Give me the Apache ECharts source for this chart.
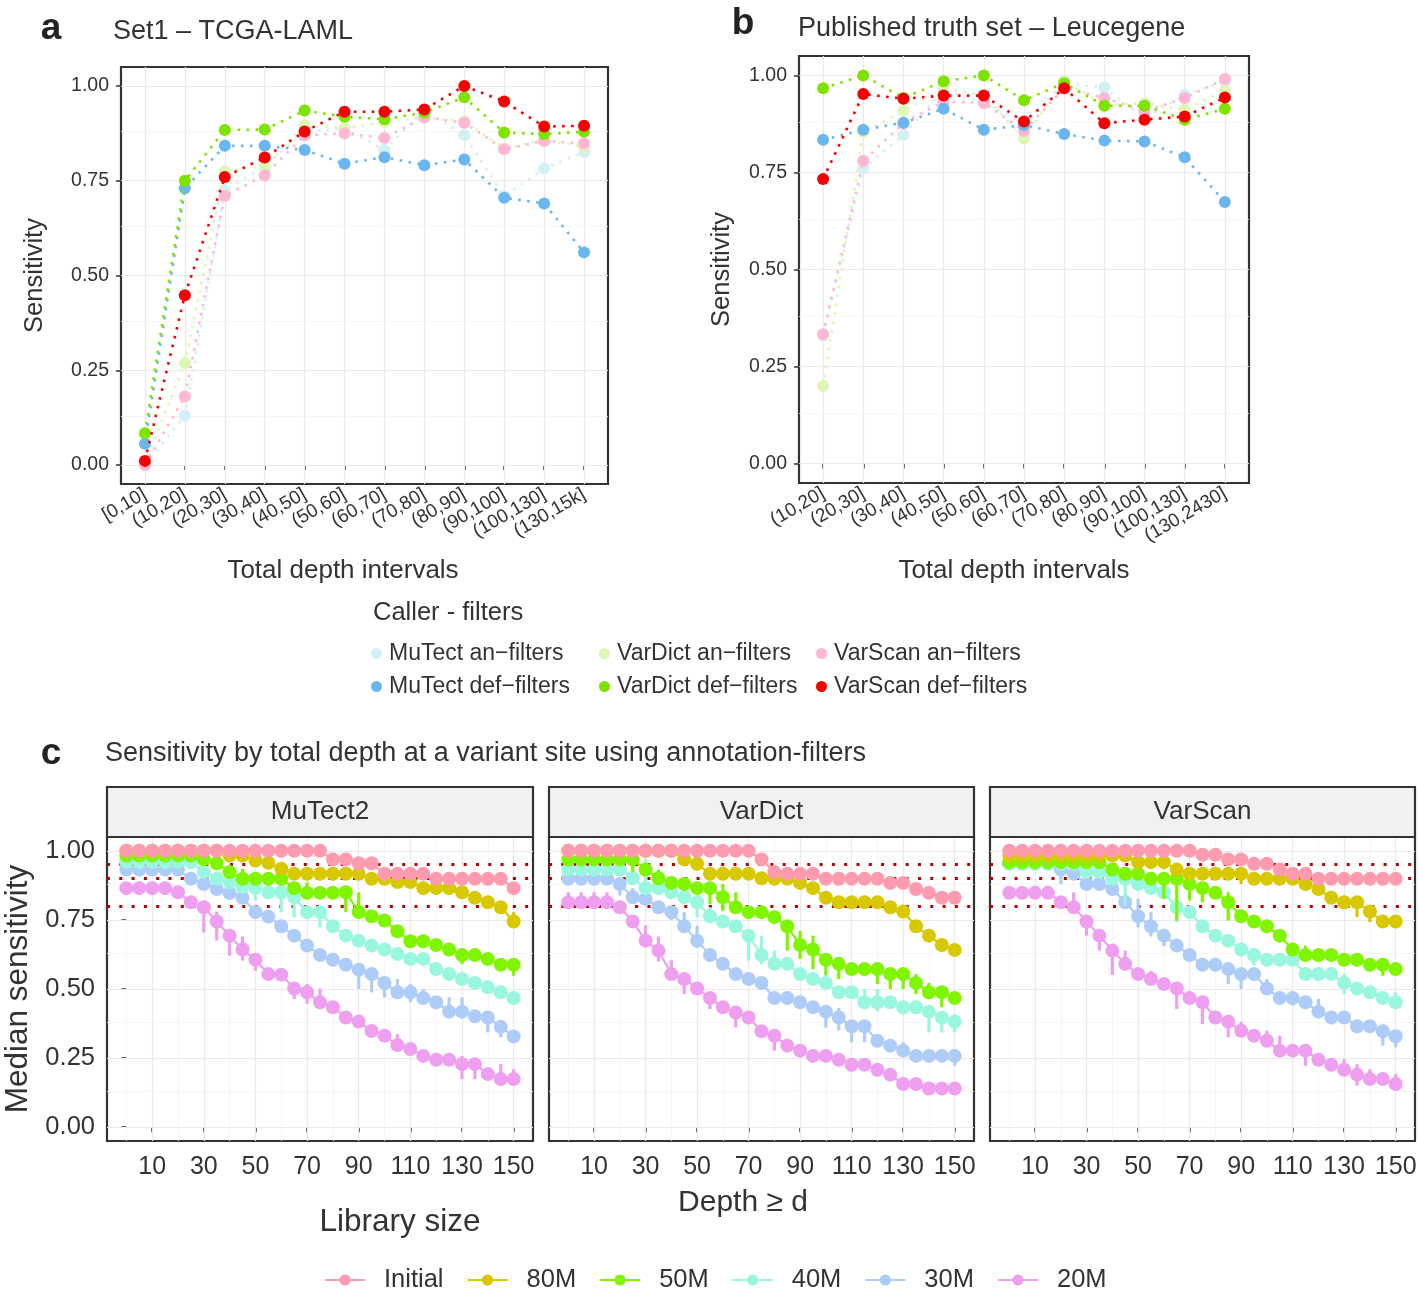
<!DOCTYPE html>
<html><head><meta charset="utf-8">
<script src="https://cdn.jsdelivr.net/npm/echarts@6/dist/echarts.min.js"></script>
<style>html,body{margin:0;padding:0;background:#fff}#c{width:1419px;height:1291px}</style>
</head><body><div id="c"></div>
<script>
// ---------- Panel a / b data ----------
const catsA = ['[0,10]','(10,20]','(20,30]','(30,40]','(40,50]','(50,60]','(60,70]','(70,80]','(80,90]','(90,100]','(100,130]','(130,15k]'];
const catsB = ['(10,20]','(20,30]','(30,40]','(40,50]','(50,60]','(60,70]','(70,80]','(80,90]','(90,100]','(100,130]','(130,2430]'];
const callerNames = ['MuTect an\u2212filters','MuTect def\u2212filters','VarDict an\u2212filters','VarDict def\u2212filters','VarScan an\u2212filters','VarScan def\u2212filters'];
const callerColors = ['#D3F0F5','#6BB6EE','#DDF7B4','#7FE300','#FFB7D3','#F50000'];

const aMuTectAn   = [0.000, 0.130, 0.725, 0.787, 0.880, 0.888, 0.831, 0.938, 0.870, 0.709, 0.782, 0.826];
const aMuTectDef  = [0.056, 0.730, 0.842, 0.842, 0.831, 0.795, 0.812, 0.791, 0.806, 0.705, 0.690, 0.561];
const aVarDictAn  = [0.003, 0.269, 0.775, 0.789, 0.897, 0.888, 0.905, 0.917, 0.906, 0.835, 0.857, 0.840];
const aVarDictDef = [0.084, 0.750, 0.884, 0.885, 0.935, 0.919, 0.912, 0.930, 0.970, 0.877, 0.873, 0.879];
const aVarScanAn  = [0.000, 0.181, 0.710, 0.764, 0.870, 0.875, 0.863, 0.917, 0.903, 0.833, 0.855, 0.848];
const aVarScanDef = [0.011, 0.448, 0.760, 0.811, 0.880, 0.932, 0.932, 0.938, 1.000, 0.959, 0.893, 0.895];

const bMuTectAn   = [0.330, 0.761, 0.847, 0.963, 0.930, 0.877, 0.980, 0.969, 0.890, 0.950, 0.985];
const bMuTectDef  = [0.834, 0.860, 0.878, 0.914, 0.860, 0.872, 0.849, 0.832, 0.830, 0.789, 0.674];
const bVarDictAn  = [0.200, 0.854, 0.909, 0.967, 0.948, 0.838, 0.985, 0.924, 0.929, 0.912, 0.961];
const bVarDictDef = [0.967, 1.000, 0.942, 0.985, 1.000, 0.936, 0.980, 0.922, 0.922, 0.886, 0.914];
const bVarScanAn  = [0.333, 0.780, 0.877, 0.933, 0.929, 0.857, 0.967, 0.942, 0.907, 0.942, 0.991];
const bVarScanDef = [0.733, 0.952, 0.940, 0.948, 0.948, 0.881, 0.967, 0.877, 0.886, 0.894, 0.943];

const sensTicks = [0, 0.25, 0.5, 0.75, 1];
const sensMinor = [0.125, 0.375, 0.625, 0.875];

// ---------- Panel c data ----------
const depthX = [0,5,10,15,20,25,30,35,40,45,50,55,60,65,70,75,80,85,90,95,100,105,110,115,120,125,130,135,140,145,150];
const depthTicks = [10,30,50,70,90,110,130,150];
const depthMinor = [0,20,40,60,80,100,120,140];
const refLines = [0.8, 0.9, 0.95];
const libNames = ['Initial','80M','50M','40M','30M','20M'];
const libColors = ['#FF9BAE','#D8C800','#80F500','#98F7DE','#AECCF8','#EE9FF0'];

const mutInitial = [1,1,1,1,1,1,1,1,1,1,1,1,1,1,1,1,.969,.969,.955,.955,.917,.917,.917,.917,.899,.899,.899,.899,.899,.899,.865];
const mut80 = [1,1,1,1,1,1,1,1,.983,.983,.965,.957,.935,.917,.917,.917,.917,.917,.917,.899,.899,.887,.887,.865,.865,.865,.850,.830,.814,.796,.744];
const mut50 = [.983,.983,.983,.983,.983,.983,.969,.955,.923,.899,.899,.899,.899,.865,.848,.848,.848,.850,.778,.763,.748,.709,.673,.673,.659,.643,.623,.623,.609,.588,.588];
const mut40 = [.959,.959,.959,.959,.959,.959,.923,.899,.886,.870,.865,.850,.850,.832,.778,.778,.727,.693,.675,.657,.643,.627,.609,.609,.572,.554,.536,.522,.506,.488,.467];
const mut30 = [.932,.932,.932,.932,.932,.899,.880,.862,.847,.830,.778,.762,.727,.693,.657,.623,.606,.588,.570,.554,.522,.488,.488,.467,.452,.418,.418,.401,.397,.363,.328];
const mut20 = [.865,.865,.865,.865,.850,.814,.796,.744,.693,.643,.606,.554,.552,.502,.488,.452,.434,.397,.382,.348,.331,.297,.283,.258,.244,.244,.228,.228,.192,.174,.174];

const vdInitial = [1,1,1,1,1,1,1,1,1,1,1,1,1,1,1,.969,.923,.917,.917,.917,.899,.899,.899,.899,.899,.884,.884,.862,.848,.830,.830];
const vd80 = [1,1,1,1,1,1,1,1,1,.969,.953,.917,.917,.917,.917,.901,.899,.899,.884,.865,.830,.814,.814,.814,.814,.796,.780,.727,.693,.659,.641];
const vd50 = [.969,.969,.969,.969,.969,.969,.932,.901,.884,.880,.865,.865,.832,.796,.778,.778,.760,.727,.659,.643,.606,.591,.572,.572,.572,.554,.554,.522,.488,.488,.467];
const vd40 = [.932,.932,.932,.932,.932,.901,.865,.865,.850,.832,.814,.763,.744,.727,.693,.623,.591,.591,.554,.536,.522,.488,.488,.452,.452,.452,.434,.434,.418,.397,.382];
const vd30 = [.899,.899,.899,.899,.880,.832,.826,.796,.778,.727,.675,.623,.591,.554,.536,.522,.467,.467,.452,.434,.418,.397,.365,.365,.313,.295,.277,.258,.258,.258,.258];
const vd20 = [.814,.814,.814,.814,.796,.744,.675,.639,.554,.536,.502,.467,.434,.415,.397,.347,.331,.295,.277,.258,.258,.244,.226,.226,.208,.190,.156,.156,.140,.140,.140];

const vsInitial = [1,1,1,1,1,1,1,1,1,1,1,1,1,1,1,.986,.986,.969,.969,.953,.953,.932,.917,.917,.899,.899,.899,.899,.899,.899,.899];
const vs80 = [.983,.983,.983,.983,.983,.983,.983,.983,.983,.983,.959,.959,.959,.932,.917,.917,.917,.917,.917,.899,.899,.899,.899,.880,.862,.830,.814,.814,.780,.744,.744];
const vs50 = [.959,.959,.959,.959,.959,.959,.959,.959,.932,.917,.917,.899,.899,.899,.880,.865,.848,.814,.763,.744,.727,.693,.643,.623,.623,.623,.606,.606,.588,.588,.572];
const vs40 = [.953,.953,.953,.953,.953,.953,.923,.923,.899,.899,.880,.865,.850,.796,.778,.727,.693,.675,.643,.623,.606,.606,.606,.554,.554,.554,.522,.502,.488,.467,.452];
const vs30 = [.953,.953,.953,.953,.932,.917,.880,.880,.862,.814,.763,.727,.693,.657,.623,.588,.588,.572,.554,.554,.502,.467,.467,.452,.418,.397,.397,.365,.365,.347,.329];
const vs20 = [.848,.848,.848,.848,.814,.796,.744,.693,.639,.591,.554,.536,.518,.502,.467,.452,.397,.382,.349,.331,.313,.277,.277,.277,.244,.226,.208,.190,.174,.174,.156];

// error ranges: [depth, low, high]
const mutErr80 = [[150,.744,.778]];
const mutErr50 = [[45,.899,.935],[70,.848,.886],[85,.778,.850],[90,.760,.850],[130,.590,.623],[150,.548,.588]];
const mutErr40 = [[50,.820,.865],[60,.778,.850],[65,.760,.832],[75,.723,.778],[140,.506,.530]];
const mutErr30 = [[90,.500,.570],[95,.488,.554],[100,.470,.522],[105,.464,.536],[110,.452,.518],[115,.467,.500],[125,.418,.470],[130,.418,.470],[140,.343,.397],[145,.325,.363]];
const mutErr20 = [[30,.705,.800],[35,.675,.780],[40,.620,.693],[45,.603,.690],[50,.566,.606],[65,.464,.502],[70,.446,.518],[75,.428,.502],[85,.378,.397],[105,.297,.337],[115,.258,.272],[130,.174,.258],[135,.174,.228],[145,.174,.228],[150,.174,.210]];

const vdErr50 = [[25,.923,.969],[35,.901,.932],[55,.808,.865],[60,.783,.880],[65,.796,.850],[85,.639,.727],[90,.609,.710],[95,.572,.693],[100,.548,.606],[105,.536,.591],[120,.518,.572],[125,.500,.554],[130,.500,.554],[135,.482,.554],[140,.488,.522],[145,.434,.488],[150,.446,.467]];
const vdErr40 = [[30,.865,.970],[50,.760,.814],[55,.763,.796],[70,.603,.693],[75,.590,.693],[80,.591,.639],[115,.428,.500],[120,.420,.500],[140,.343,.418],[145,.343,.397],[150,.343,.382]];
const vdErr30 = [[20,.838,.899],[25,.832,.865],[40,.750,.778],[45,.727,.778],[50,.650,.729],[80,.449,.467],[85,.467,.490],[95,.421,.434],[100,.360,.418],[105,.350,.432],[110,.307,.365],[115,.307,.365],[125,.295,.319],[130,.277,.307],[150,.222,.258]];
const vdErr20 = [[0,.814,.850],[5,.814,.850],[10,.814,.850],[15,.814,.850],[25,.730,.744],[30,.675,.730],[35,.600,.690],[40,.554,.604],[45,.482,.536],[55,.427,.467],[65,.361,.415],[80,.277,.331]];

const vsErr80 = [[90,.880,.917],[135,.760,.814],[140,.742,.780]];
const vsErr50 = [[60,.826,.899],[65,.748,.899],[70,.820,.880],[75,.814,.865],[85,.748,.850],[115,.623,.657],[130,.585,.606],[145,.548,.588]];
const vsErr40 = [[45,.802,.899],[65,.742,.796],[95,.585,.623],[130,.482,.554],[150,.452,.488]];
const vsErr30 = [[20,.880,.932],[50,.723,.826],[55,.690,.778],[60,.655,.693],[85,.518,.572],[90,.500,.554],[100,.502,.536],[110,.440,.467],[120,.418,.464],[145,.295,.347],[150,.289,.329]];
const vsErr20 = [[25,.796,.850],[30,.693,.744],[35,.639,.693],[40,.551,.639],[45,.591,.639],[55,.536,.566],[65,.428,.502],[75,.373,.452],[85,.325,.382],[90,.349,.382],[100,.313,.349],[105,.277,.331],[115,.222,.277],[125,.226,.246],[130,.208,.246],[135,.150,.228],[140,.174,.210],[150,.156,.192]];

// ---------- build ----------
const FONT = "'Liberation Sans', Arial, Helvetica, sans-serif";
const TXT = '#333333';
const GRID_MAJOR = {color:'#EAEAEA', width:1.2, type:'solid'};
const GRID_MINOR = {color:'#F4F4F4', width:0.8, type:'solid'};

function gridLines(gi, xMaj, xMin, yMaj, yMin) {
  const d = [];
  xMin.forEach(v => d.push({xAxis:v, lineStyle:GRID_MINOR}));
  yMin.forEach(v => d.push({yAxis:v, lineStyle:GRID_MINOR}));
  xMaj.forEach(v => d.push({xAxis:v, lineStyle:GRID_MAJOR}));
  yMaj.forEach(v => d.push({yAxis:v, lineStyle:GRID_MAJOR}));
  return {type:'line', xAxisIndex:gi, yAxisIndex:gi, data:[[xMaj[0], yMaj[0]]], showSymbol:false, symbolSize:0,
    lineStyle:{width:0}, z:1, silent:true, animation:false,
    markLine:{silent:true, symbol:['none','none'], label:{show:false}, animation:false, data:d}};
}

const series = [];
series.push(gridLines(0, catsA.map((c,i)=>i+1), [], sensTicks, sensMinor));
series.push(gridLines(1, catsB.map((c,i)=>i+1), [], sensTicks, sensMinor));
[2,3,4].forEach(g => series.push(gridLines(g, depthTicks, depthMinor, sensTicks, sensMinor)));

const aVals = [aMuTectAn, aMuTectDef, aVarDictAn, aVarDictDef, aVarScanAn, aVarScanDef];
const bVals = [bMuTectAn, bMuTectDef, bVarDictAn, bVarDictDef, bVarScanAn, bVarScanDef];
const zOrder = [10, 13, 11, 14, 12, 15];
[aVals, bVals].forEach((vals, gi) => {
  vals.forEach((arr, k) => {
    series.push({
      type:'line', name:callerNames[k], xAxisIndex:gi, yAxisIndex:gi,
      data: arr.map((v,i)=>[i+1, v]),
      symbol:'circle', symbolSize:12, showSymbol:true,
      itemStyle:{color:callerColors[k], opacity:1},
      lineStyle:{color:callerColors[k], width:2.6, type:[2.6,6.4], cap:'butt'},
      z:zOrder[k], animation:false
    });
  });
});

const facets = [
  {g:2, vals:[mutInitial, mut80, mut50, mut40, mut30, mut20], errs:[[], mutErr80, mutErr50, mutErr40, mutErr30, mutErr20]},
  {g:3, vals:[vdInitial, vd80, vd50, vd40, vd30, vd20], errs:[[], [], vdErr50, vdErr40, vdErr30, vdErr20]},
  {g:4, vals:[vsInitial, vs80, vs50, vs40, vs30, vs20], errs:[[], vsErr80, vsErr50, vsErr40, vsErr30, vsErr20]}
];
facets.forEach(f => {
  f.vals.forEach((arr, j) => {
    const col = libColors[j];
    const z = 40 - j*2;
    series.push({
      type:'custom', name:'err-'+libNames[j], xAxisIndex:f.g, yAxisIndex:f.g,
      data: f.errs[j], encode:{x:0, y:[1,2]}, z:z-1, silent:true, animation:false,
      renderItem:(params, api) => {
        const p1 = api.coord([api.value(0), api.value(1)]);
        const p2 = api.coord([api.value(0), api.value(2)]);
        return {type:'line', shape:{x1:p1[0], y1:p1[1], x2:p2[0], y2:p2[1]}, style:{stroke:col, lineWidth:3.2}};
      }
    });
    series.push({
      type:'line', name:libNames[j], xAxisIndex:f.g, yAxisIndex:f.g,
      data: depthX.map((x,i)=>[x, arr[i]]),
      symbol:'circle', symbolSize:14, showSymbol:true,
      itemStyle:{color:col, opacity:1}, lineStyle:{color:col, width:2.2},
      z:z, animation:false
    });
  });
  series.push({
    type:'line', name:'ref', xAxisIndex:f.g, yAxisIndex:f.g, data:[[depthX[0], refLines[0]]],
    showSymbol:false, symbolSize:0, lineStyle:{width:0}, z:60, silent:true, animation:false,
    markLine:{silent:true, symbol:['none','none'], label:{show:false}, animation:false,
      lineStyle:{color:'#B80000', width:3, type:[3,9.3], cap:'butt'},
      data: refLines.map(v=>({yAxis:v}))}
  });
});

// ---------- axes ----------
const tickStyle = {length:5, lineStyle:{color:'#333', width:1.5}};
function catX(gi, cats) {
  const vals = cats.map((c,i)=>i+1);
  return {gridIndex:gi, type:'value', min:0.4, max:cats.length+0.6,
    axisLine:{show:false}, splitLine:{show:false},
    axisTick:Object.assign({show:true, customValues:vals}, tickStyle),
    axisLabel:{customValues:vals, formatter:v=>cats[Math.round(v)-1], rotate:30, margin:9,
      fontSize:19, color:TXT, fontFamily:FONT}};
}
function sensY(gi, name, gap, nameSize, labelSize, showLabels, margin) {
  return {gridIndex:gi, type:'value', min:-0.05, max:1.05,
    axisLine:{show:false}, splitLine:{show:false},
    axisTick:Object.assign({show:showLabels, customValues:sensTicks}, tickStyle),
    axisLabel:{show:showLabels, customValues:sensTicks, formatter:v=>v.toFixed(2), margin:margin,
      fontSize:labelSize, color:TXT, fontFamily:FONT},
    name:name, nameLocation:'middle', nameGap:gap,
    nameTextStyle:{fontSize:nameSize, color:TXT, fontFamily:FONT}};
}
function depthAxis(gi) {
  return {gridIndex:gi, type:'value', min:-7.5, max:157.5,
    axisLine:{show:false}, splitLine:{show:false},
    axisTick:Object.assign({show:true, customValues:depthTicks}, tickStyle),
    axisLabel:{customValues:depthTicks, margin:14, fontSize:25, color:TXT, fontFamily:FONT}};
}

const gridBase = {show:true, borderColor:'#333', borderWidth:2.2, backgroundColor:'transparent', containLabel:false, outerBoundsMode:'none'};
const grids = [
  Object.assign({left:121, top:67, width:487, height:417}, gridBase),
  Object.assign({left:799, top:56, width:450, height:427}, gridBase),
  Object.assign({left:107, top:837, width:426, height:304}, gridBase),
  Object.assign({left:549, top:837, width:425, height:304}, gridBase),
  Object.assign({left:990, top:837, width:425, height:304}, gridBase)
];

function txt(text, x, y, size, align, weight, fill) {
  return {type:'text', x:x, y:y, silent:true, z:100,
    style:{text:text, fill:fill||TXT, font:(weight||'normal')+' '+size+'px '+FONT,
      align:align||'left', verticalAlign:'middle', textAlign:align||'left', textVerticalAlign:'middle'}};
}
function strip(x, w, label) {
  return [
    {type:'rect', silent:true, z:90, shape:{x:x, y:787, width:w, height:50}, style:{fill:'#F0F1F0', stroke:'#333', lineWidth:2.2}},
    txt(label, x + w/2, 812, 26, 'center')
  ];
}

const graphic = [
  txt('a', 51, 29, 37, 'center', 'bold', '#222'),
  txt('Set1 \u2013 TCGA-LAML', 113, 32, 27, 'left'),
  txt('b', 743, 24, 37, 'center', 'bold', '#222'),
  txt('Published truth set \u2013 Leucegene', 798, 29, 27, 'left'),
  txt('Total depth intervals', 343, 571, 26, 'center'),
  txt('Total depth intervals', 1014, 571, 26, 'center'),
  txt('Caller - filters', 373, 613, 25.5, 'left'),
  txt('c', 51, 754, 37, 'center', 'bold', '#222'),
  txt('Sensitivity by total depth at a variant site using annotation-filters', 105, 754, 27, 'left'),
  ...strip(107, 426, 'MuTect2'),
  ...strip(549, 425, 'VarDict'),
  ...strip(990, 425, 'VarScan'),
  txt('Library size', 400, 1222, 31.5, 'center'),
  txt('Depth \u2265 d', 743, 1203, 30, 'center')
];

function callerLegend(names, left) {
  return {data:names, left:left, top:637, orient:'vertical', icon:'circle', itemWidth:11, itemHeight:11,
    itemGap:10, selectedMode:false, textStyle:{fontSize:23, color:TXT, fontFamily:FONT, padding:[0,0,0,2]}};
}

const option = {
  animation:false,
  backgroundColor:'#ffffff',
  textStyle:{fontFamily:FONT},
  grid:grids,
  xAxis:[catX(0, catsA), catX(1, catsB), depthAxis(2), depthAxis(3), depthAxis(4)],
  yAxis:[sensY(0,'Sensitivity',73,25.5,19.5,true,12), sensY(1,'Sensitivity',64,25.5,19.5,true,12),
         sensY(2,'Median sensitivity',73,31.5,25.5,true,12), sensY(3,'',0,1,22,false,12), sensY(4,'',0,1,22,false,12)],
  legend:[
    callerLegend([callerNames[0], callerNames[1]], 366),
    callerLegend([callerNames[2], callerNames[3]], 594),
    callerLegend([callerNames[4], callerNames[5]], 811),
    {data:libNames, left:319, top:1262, orient:'horizontal', itemWidth:40, itemHeight:14, itemGap:23,
      selectedMode:false, textStyle:{fontSize:25.5, color:TXT, fontFamily:FONT, padding:[0,0,0,14]}}
  ],
  graphic:graphic,
  series:series
};

const chart = echarts.init(document.getElementById('c'), null, {renderer:'canvas'});
chart.setOption(option);
</script></body></html>
